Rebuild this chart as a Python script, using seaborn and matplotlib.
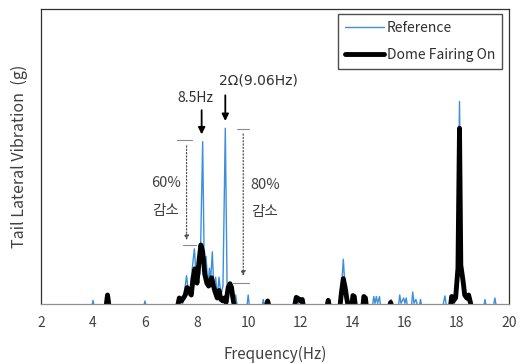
import numpy as np
import pandas as pd
import matplotlib
matplotlib.use("Agg")
import matplotlib.pyplot as plt
import seaborn as sns

# ---- data (normalised amplitude) ----
ref_freq = [2.0, 3.95, 4.0, 4.05, 4.5, 4.56, 4.62, 5.95, 6.0, 6.05,
            7.3, 7.38, 7.45, 7.52, 7.6, 7.68, 7.75, 7.82, 7.9, 7.98, 8.05, 8.12,
            8.22, 8.28, 8.35, 8.42, 8.48, 8.52, 8.59, 8.65, 8.72, 8.78, 8.85,
            8.92, 9.0, 9.09, 9.16, 9.25, 9.32, 9.4, 9.49, 9.55, 9.92, 9.97,
            10.02, 10.5, 10.55, 10.6, 11.7, 11.8, 11.9, 12.0, 12.1, 13.45,
            13.55, 13.63, 13.7, 13.8, 13.9, 14.0, 14.05, 14.4, 14.45, 14.5,
            14.75, 14.8, 14.85, 14.9, 14.95, 15.02, 15.07, 15.4, 15.47, 15.52,
            15.75, 15.8, 15.85, 15.95, 16.0, 16.05, 16.1, 16.25, 16.3, 16.35,
            16.42, 16.5, 16.55, 16.6, 16.65, 17.45, 17.54, 17.6, 17.75, 17.82,
            17.88, 17.95, 18.02, 18.1, 18.16, 18.22, 18.3, 18.4, 18.46, 18.52,
            19.03, 19.08, 19.13, 19.4, 19.46, 19.52, 20.0]
ref_amp = [0, 0, 0.022, 0, 0, 0.03, 0, 0, 0.02, 0,
           0, 0.03, 0.012, 0.05, 0.105, 0.04, 0.07, 0.13, 0.195, 0.09, 0.15, 0.11,
           0.555, 0.13, 0.17, 0.07, 0.13, 0.08, 0.185, 0.06, 0.1, 0.03, 0.1,
           0.04, 0.07, 0.6, 0.06, 0.07, 0.03, 0.012, 0.04, 0, 0, 0.04,
           0, 0, 0.025, 0, 0, 0.025, 0.012, 0.02, 0, 0,
           0.05, 0.16, 0.06, 0.03, 0, 0.03, 0, 0, 0.025, 0,
           0, 0.035, 0.012, 0.035, 0.012, 0.035, 0, 0, 0.025, 0,
           0, 0.04, 0.012, 0.03, 0.012, 0.03, 0, 0, 0.05, 0.012,
           0.025, 0, 0, 0.025, 0, 0, 0.037, 0, 0, 0.03,
           0, 0.04, 0.11, 0.69, 0.21, 0.07, 0.04, 0.02, 0.035, 0,
           0, 0.025, 0, 0, 0.03, 0, 0]

dome_freq = [2.0, 4.5, 4.56, 4.62, 7.25, 7.32, 7.4, 7.48, 7.55, 7.62, 7.7,
             7.78, 7.85, 7.92, 8.0, 8.08, 8.15, 8.22, 8.3, 8.38, 8.45, 8.5,
             8.56, 8.62, 8.7, 8.78, 8.85, 8.92, 9.0, 9.06, 9.12, 9.2, 9.27,
             9.33, 9.4, 9.45, 10.65, 10.72, 10.78, 11.75, 11.82, 11.9, 11.98,
             12.05, 12.1, 13.0, 13.05, 13.1, 13.5, 13.56, 13.63, 13.7, 13.76,
             13.82, 13.95, 14.0, 14.05, 14.1, 14.38, 14.42, 14.48, 14.52,
             15.4, 15.45, 15.5, 17.75, 17.8, 17.86, 17.95, 18.04, 18.1, 18.15,
             18.24, 18.3, 18.38, 18.45, 18.52, 18.55, 20.0]
dome_amp = [0, 0, 0.04, 0, 0, 0.03, 0.02, 0.03, 0.04, 0.065, 0.055,
            0.04, 0.095, 0.128, 0.08, 0.155, 0.208, 0.185, 0.11, 0.08, 0.07, 0.085,
            0.098, 0.075, 0.05, 0.03, 0.055, 0.025, 0.02, 0.03, 0.015, 0.065, 0.078,
            0.065, 0.02, 0, 0, 0.02, 0, 0, 0.032, 0.028, 0.02,
            0.025, 0, 0, 0.022, 0, 0, 0.05, 0.095, 0.065, 0.03,
            0, 0, 0.038, 0.035, 0, 0, 0.035, 0.03, 0,
            0, 0.015, 0, 0, 0.035, 0.02, 0.03, 0.13, 0.6, 0.14,
            0.085, 0.04, 0.03, 0.04, 0.015, 0, 0]

xticks = [2, 4, 6, 8, 10, 12, 14, 16, 18, 20]

ref_df = pd.DataFrame({"Frequency": ref_freq, "Amplitude": ref_amp})
dome_df = pd.DataFrame({"Frequency": dome_freq, "Amplitude": dome_amp})

sns.set_style("white")
plt.rcParams["font.family"] = ["Noto Sans CJK KR", "DejaVu Sans"]

fig = plt.figure(figsize=(5.29, 3.64), dpi=100)
ax = fig.add_axes([0.0775, 0.165, 0.8845, 0.81])

BLUE = "#3d8fdc"
sns.lineplot(data=ref_df, x="Frequency", y="Amplitude", ax=ax, color=BLUE,
             linewidth=1.0, sort=False, estimator=None, label="Reference")
sns.lineplot(data=dome_df, x="Frequency", y="Amplitude", ax=ax, color="black",
             linewidth=3.5, sort=False, estimator=None, label="Dome Fairing On")

ax.set_xlim(2, 20)
ax.set_ylim(0.01, 1.0)
ax.set_xticks(xticks)
ax.set_xticklabels([str(t) for t in xticks])
ax.set_yticks([])
ax.tick_params(axis="x", direction="in", length=3, color="#909090",
               labelsize=10, labelcolor="#404040", pad=9)
ax.set_xlabel("Frequency(Hz)", fontsize=11, color="#404040", labelpad=11)
ax.set_ylabel("Tail Lateral Vibration  (g)", fontsize=11.5, color="#404040",
              labelpad=9)
for s in ["left", "top", "right"]:
    ax.spines[s].set_color("#303030")
    ax.spines[s].set_linewidth(0.9)
ax.spines["bottom"].set_color("#909090")
ax.spines["bottom"].set_linewidth(0.9)

leg = ax.legend(loc="upper right", bbox_to_anchor=(0.985, 0.983),
                borderaxespad=0, fancybox=False, frameon=True, fontsize=10,
                handlelength=2.8, labelspacing=0.9, borderpad=0.5,
                handletextpad=0.2)
leg.get_frame().set_edgecolor("#202020")
leg.get_frame().set_linewidth(1.0)
for t in leg.get_texts():
    t.set_color("#303030")

# annotations
arrow_kw = dict(arrowstyle="-|>", color="black", lw=1.3, mutation_scale=10)
ax.annotate("", xy=(8.18, 0.57), xytext=(8.18, 0.67), arrowprops=arrow_kw)
ax.text(7.92, 0.70, "8.5Hz", ha="center", va="center", fontsize=10,
        color="#303030")
ax.annotate("", xy=(9.09, 0.615), xytext=(9.09, 0.72), arrowprops=arrow_kw)
ax.text(10.35, 0.76, "2\u03a9(9.06Hz)", ha="center", va="center",
        fontsize=10, color="#303030", family=["DejaVu Sans"])

gray = "#8a8a8a"
dot_kw = dict(arrowstyle="-|>", color="#505050", lw=0.9, linestyle=":",
              mutation_scale=7)
# left bracket
ax.plot([7.23, 7.81], [0.559, 0.559], color=gray, lw=0.8)
ax.annotate("", xy=(7.6, 0.215), xytext=(7.6, 0.55), arrowprops=dot_kw)
ax.plot([7.46, 7.96], [0.207, 0.207], color=gray, lw=0.8)
# right bracket
ax.plot([9.54, 10.0], [0.599, 0.599], color=gray, lw=0.8)
ax.annotate("", xy=(9.78, 0.095), xytext=(9.78, 0.59), arrowprops=dot_kw)
ax.plot([9.35, 10.0], [0.079, 0.079], color=gray, lw=0.8)

ax.text(6.8, 0.415, "60%", ha="center", va="center", fontsize=10.5,
        color="#404040")
ax.text(6.8, 0.322, "감소", ha="center", va="center", fontsize=10.5,
        color="#404040")
ax.text(10.62, 0.411, "80%", ha="center", va="center", fontsize=10.5,
        color="#404040")
ax.text(10.62, 0.319, "감소", ha="center", va="center", fontsize=10.5,
        color="#404040")

fig.savefig("out.png", dpi=100)
